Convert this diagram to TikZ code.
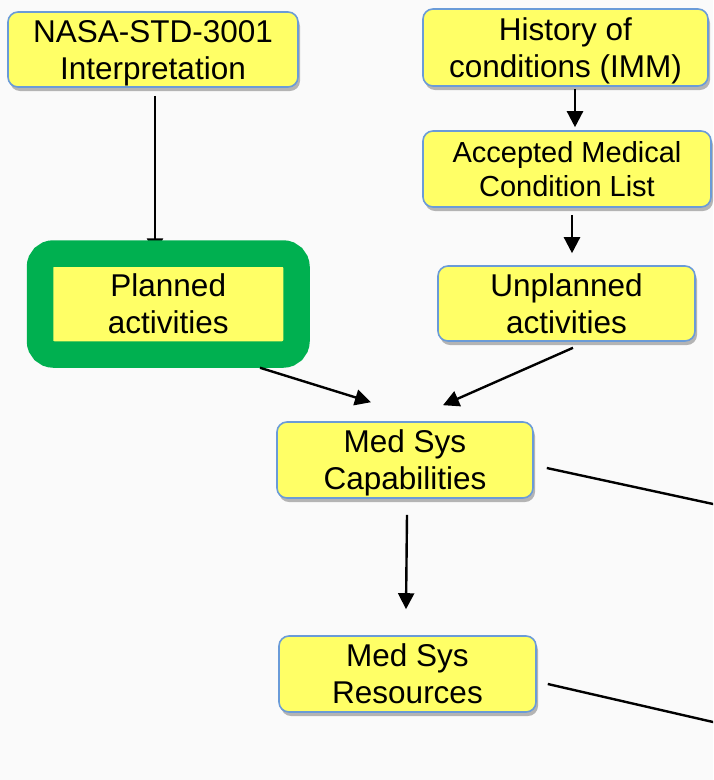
\documentclass[tikz,border=0pt]{standalone}
\usepackage{fontspec}
\setmainfont{Liberation Sans}
\usetikzlibrary{arrows.meta,calc,shadows,backgrounds}

\definecolor{boxfill}{HTML}{FFFF66}
\definecolor{boxline}{HTML}{6A9BD8}
\definecolor{greenframe}{HTML}{00B050}
\definecolor{pagebg}{HTML}{FAFAFA}

\tikzset{
  infobox/.style={draw=boxline, fill=boxfill, line width=1.6pt,
    rounded corners=10pt, inner sep=0pt, align=center, text depth=0pt,
    font=\fontsize{31.5}{37}\selectfont,
    drop shadow={shadow xshift=2pt, shadow yshift=-4pt,
      fill=black, opacity=0.28}},
  framedbox/.style={draw=greenframe, fill=boxfill, line width=26.5pt,
    rounded corners=13.5pt, inner sep=0pt, align=center,
    font=\fontsize{31.5}{37}\selectfont},
  arr/.style={line width=2.4pt, -{Triangle[length=16pt,width=16pt]}},
  plain/.style={line width=2.4pt},
}

\begin{document}
\begin{tikzpicture}[x=1pt, y=-1pt]
  \useasboundingbox (0,0) rectangle (713,780);
  \clip (0,0) rectangle (713,780);

  % boxes
  \node[infobox, minimum width=290pt, minimum height=75pt] (nasa) at (153,49.5)
    {NASA-STD-3001\\Interpretation};
  \node[infobox, minimum width=285pt, minimum height=77pt] (hist) at (565.5,47.5)
    {History of\\conditions (IMM)};
  \node[infobox, minimum width=288pt, minimum height=76pt,
        font=\fontsize{29}{34}\selectfont] (acml) at (567,169)
    {Accepted Medical\\Condition List};
  \node[framedbox, minimum width=256.5pt, minimum height=101pt] (planned) at (168.25,304)
    {Planned\\activities};
  \node[infobox, minimum width=257pt, minimum height=75pt] (unpl) at (566.5,303.5)
    {Unplanned\\activities};
  \node[infobox, minimum width=256pt, minimum height=76pt] (cap) at (405,460)
    {Med Sys\\Capabilities};
  \node[infobox, minimum width=257pt, minimum height=76pt] (res) at (407.5,674)
    {Med Sys\\Resources};

  % free ends leaving on the right
  \coordinate (capout) at (720,505.5);
  \coordinate (resout) at (720,723.6);

  % page colour and the arrow whose head tucks under the green frame
  \begin{scope}[on background layer]
    \fill[pagebg] (0,0) rectangle (713,780);
    \draw[arr] ($(nasa.south)+(2,8)$) -- ($(planned.north)+(-13.25,14)$);
  \end{scope}

  % connectors
  \draw[arr] ($(hist.south)+(9.5,2)$) -- ($(acml.north)+(8,-3)$);
  \draw[arr] ($(acml.south)+(5,7)$) -- ($(unpl.north)+(5.5,-12)$);
  \draw[arr] ($(planned.south)+(91.75,0)$) -- ($(cap.north)+(-34,-19)$);
  \draw[arr] ($(unpl.south)+(6.5,6)$) -- ($(cap.north)+(38,-16)$);
  \draw[arr] ($(cap.south)+(2,16)$) -- ($(res.north)+(-1.5,-26)$);
  \draw[plain] ($(cap.east)+(13,8)$) -- (capout);
  \draw[plain] ($(res.east)+(11,10)$) -- (resout);
\end{tikzpicture}
\end{document}
